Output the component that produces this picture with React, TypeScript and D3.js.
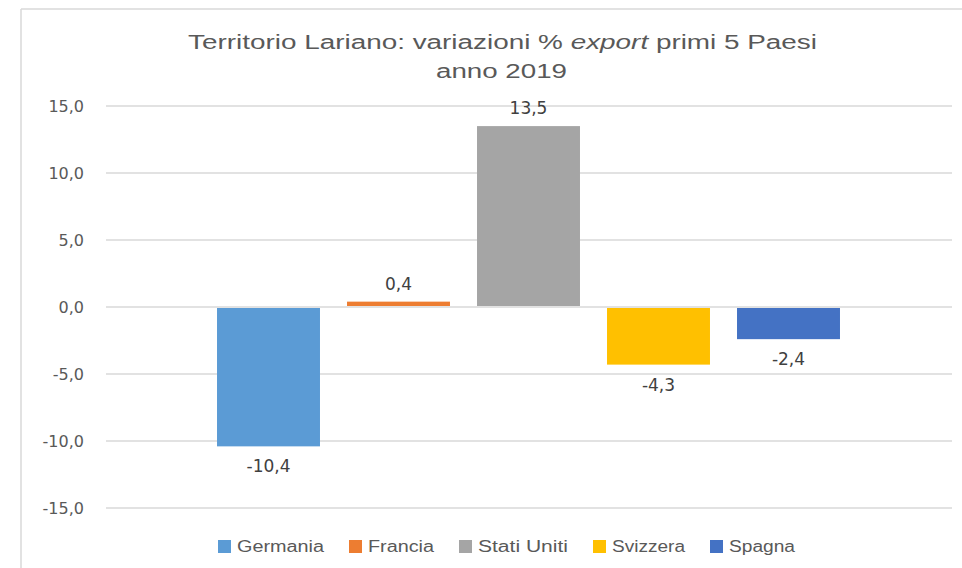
import * as d3 from 'd3';

const paesi = ['Germania', 'Francia', 'Stati Uniti', 'Svizzera', 'Spagna'];
const variazioni = [-10.4, 0.4, 13.5, -4.3, -2.4];
const colori = ['#5b9bd5', '#ed7d31', '#a5a5a5', '#ffc000', '#4472c4'];
const yTicks = [-15, -10, -5, 0, 5, 10, 15];

const itLocale = d3.formatLocale({
  decimal: ',',
  thousands: '.',
  grouping: [3],
  currency: ['', ' €'],
  minus: '-',
});
const fmt = itLocale.format('.1f');

const W = 962;
const H = 568;

const App = () => {
  const y = d3.scaleLinear().domain([-15, 15]).range([508, 106]);
  const x = d3
    .scaleBand<string>()
    .domain(paesi)
    .range([203.5, 853.5])
    .paddingInner(0.208)
    .paddingOuter(0.104);

  const data = paesi.map((p, i) => ({ paese: p, v: variazioni[i], c: colori[i] }));

  // legend layout: square + label, widths measured on the reference
  const legendWidths = [87, 66, 90, 73, 66];
  let lx = 218;
  const legend = data.map((d, i) => {
    const item = { ...d, x: lx, w: legendWidths[i] };
    lx += 13 + 6 + legendWidths[i] + 25;
    return item;
  });

  return (
    <div style={{ position: 'absolute', left: 0, top: 0 }}>
      <svg width={W} height={H} style={{ display: 'block', background: '#fff' }}>
        {/* chart frame */}
        <line x1={21} x2={W} y1={9} y2={9} stroke="#d9d9d9" strokeWidth={1.5} />
        <line x1={21} x2={21} y1={9} y2={H} stroke="#d9d9d9" strokeWidth={1.5} />

        {/* title */}
        <text
          x={502.5}
          y={49}
          textAnchor="middle"
          fontFamily="Liberation Sans, Arial, sans-serif"
          fontSize={20}
          fill="#595959"
          textLength={629}
          lengthAdjust="spacingAndGlyphs"
        >
          Territorio Lariano: variazioni %{' '}
          <tspan fontStyle="italic">export</tspan> primi 5 Paesi
        </text>
        <text
          x={501.5}
          y={78}
          textAnchor="middle"
          fontFamily="Liberation Sans, Arial, sans-serif"
          fontSize={20}
          fill="#595959"
          textLength={131}
          lengthAdjust="spacingAndGlyphs"
        >
          anno 2019
        </text>

        {/* gridlines + y ticks */}
        {yTicks.map((t) => (
          <g key={t}>
            <line x1={106} x2={952} y1={y(t)} y2={y(t)} stroke="#d9d9d9" strokeWidth={1.5} />
            <text
              x={84}
              y={y(t) + 5.5}
              textAnchor="end"
              fontFamily="DejaVu Sans, sans-serif"
              fontSize={16}
              fill="#595959"
            >
              {fmt(t)}
            </text>
          </g>
        ))}

        {/* bars */}
        {data.map((d) => (
          <rect
            key={d.paese}
            x={x(d.paese)}
            width={x.bandwidth()}
            y={d.v >= 0 ? y(d.v) : y(0) + 1}
            height={d.v >= 0 ? y(0) - 1 - y(d.v) : y(d.v) - y(0) - 1}
            fill={d.c}
          />
        ))}

        {/* data labels */}
        {data.map((d) => (
          <text
            key={`l-${d.paese}`}
            x={(x(d.paese) ?? 0) + x.bandwidth() / 2}
            y={d.v >= 0 ? y(d.v) - 12 : y(d.v) + 26}
            textAnchor="middle"
            fontFamily="DejaVu Sans, sans-serif"
            fontSize={17}
            fill="#404040"
          >
            {fmt(d.v)}
          </text>
        ))}

        {/* legend */}
        {legend.map((d) => (
          <g key={`lg-${d.paese}`}>
            <rect x={d.x} y={540} width={13} height={13} fill={d.c} />
            <text
              x={d.x + 19}
              y={552}
              fontFamily="Liberation Sans, Arial, sans-serif"
              fontSize={16}
              fill="#595959"
              textLength={d.w}
              lengthAdjust="spacingAndGlyphs"
            >
              {d.paese}
            </text>
          </g>
        ))}
      </svg>
    </div>
  );
};

export default App;
